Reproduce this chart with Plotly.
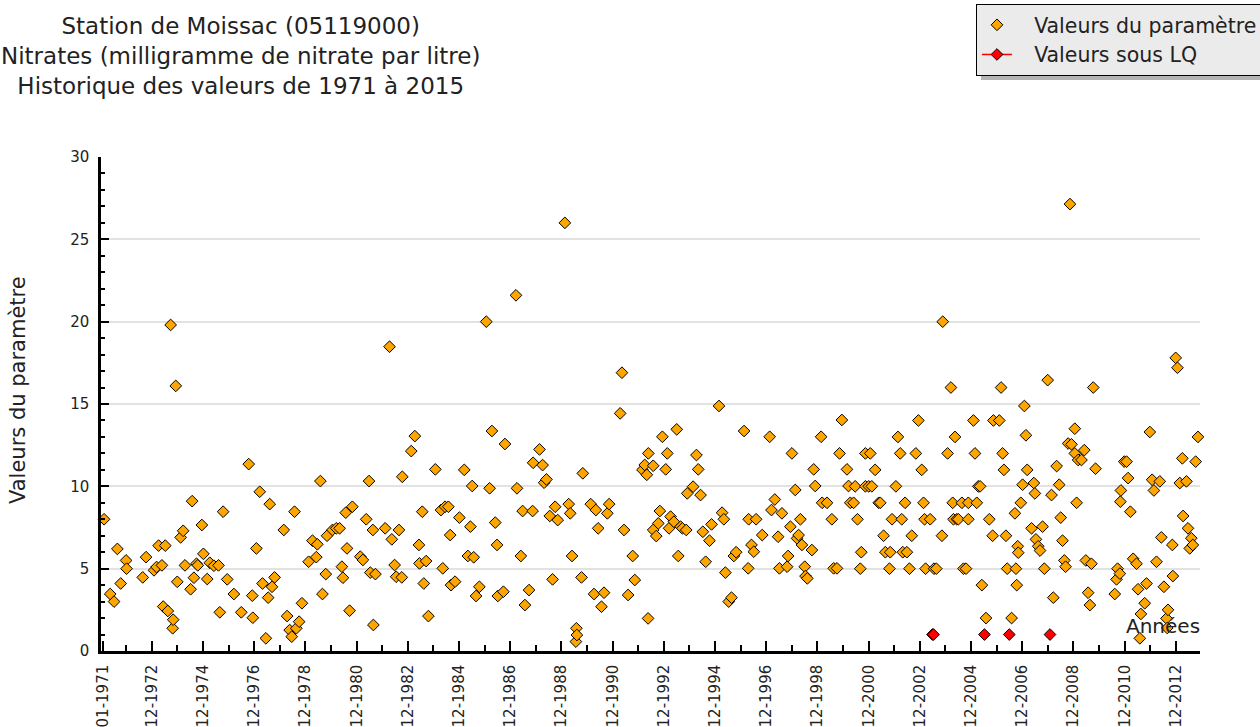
import plotly.graph_objects as go

# ---- data (decimal years, mg/L) ----
param_years = [
    1971.05, 1971.29, 1971.44, 1971.57, 1971.70, 1971.91, 1971.93, 1972.56, 1972.69, 1973.00,
    1973.10, 1973.18, 1973.31, 1973.36, 1973.44, 1973.54, 1973.65, 1973.73, 1973.75, 1973.85,
    1973.91, 1974.04, 1974.14, 1974.21, 1974.43, 1974.49, 1974.56, 1974.66, 1974.71, 1974.87,
    1974.93, 1975.08, 1975.18, 1975.34, 1975.52, 1975.57, 1975.70, 1975.86, 1976.12, 1976.41,
    1976.70, 1976.84, 1976.86, 1977.00, 1977.13, 1977.24, 1977.37, 1977.46, 1977.52, 1977.61,
    1977.71, 1978.07, 1978.20, 1978.30, 1978.38, 1978.49, 1978.56, 1978.67, 1978.78, 1979.04,
    1979.19, 1979.34, 1979.38, 1979.50, 1979.58, 1979.71, 1979.76, 1979.97, 1980.12, 1980.25,
    1980.34, 1980.38, 1980.49, 1980.54, 1980.64, 1980.75, 1981.06, 1981.16, 1981.29, 1981.40,
    1981.45, 1981.55, 1981.57, 1981.65,
    1982.03, 1982.20, 1982.29, 1982.40, 1982.46, 1982.57, 1982.68, 1982.70, 1983.05, 1983.19,
    1983.35, 1983.37, 1983.48, 1983.54, 1983.63, 1983.72, 1983.99, 1984.21, 1984.28, 1984.37,
    1984.50, 1984.57, 1984.60, 1984.76, 1984.93, 1985.12, 1985.26, 1985.36, 1985.43, 1985.49,
    1985.58, 1985.71, 1985.98, 1986.11, 1986.20, 1986.33, 1986.40, 1986.43, 1986.65, 1986.71,
    1987.14, 1987.18, 1987.33, 1987.40, 1987.49, 1987.65, 1987.79, 1987.81, 1988.06, 1988.18,
    1988.24, 1988.33, 1988.46, 1988.57, 1988.67, 1988.77, 1989.05, 1989.20, 1989.26, 1989.33,
    1989.48, 1989.50, 1989.52, 1989.70, 1989.75, 1990.06, 1990.19, 1990.26, 1990.35, 1990.48,
    1990.58, 1990.71, 1990.78, 1991.21, 1991.28, 1991.36, 1991.52, 1991.70, 1991.78, 1992.08,
    1992.17, 1992.25, 1992.31, 1992.30,
    1992.50, 1992.50, 1992.62, 1992.70, 1992.76, 1992.86, 1992.99, 1993.05, 1993.12, 1993.18,
    1993.31, 1993.42, 1993.48, 1993.57, 1993.64, 1993.79, 1993.83, 1994.06, 1994.19, 1994.26,
    1994.35, 1994.44, 1994.55, 1994.70, 1994.78, 1995.07, 1995.19, 1995.26, 1995.32, 1995.45,
    1995.56, 1995.65, 1995.74, 1996.05, 1996.21, 1996.23, 1996.34, 1996.43, 1996.52, 1996.76,
    1997.05, 1997.12, 1997.25, 1997.38, 1997.43, 1997.53, 1997.73, 1997.77, 1997.86, 1997.92,
    1998.05, 1998.12, 1998.18, 1998.25, 1998.31, 1998.42, 1998.45, 1998.52, 1998.70, 1998.77,
    1998.83, 1999.06, 1999.10, 1999.29, 1999.48, 1999.55, 1999.68, 1999.78, 1999.87, 2000.07,
    2000.13, 2000.20, 2000.33, 2000.39, 2000.48, 2000.59, 2000.63, 2000.79, 2000.79, 2000.92,
    2000.98, 2001.04, 2001.17, 2001.31, 2001.37, 2001.50, 2001.57, 2001.73, 2001.76, 2001.83,
    2001.98, 2002.06, 2002.15, 2002.21, 2002.25, 2002.34, 2002.41, 2002.51, 2002.60, 2002.76,
    2002.86, 2002.99, 2003.06, 2003.10, 2003.32, 2003.14, 2003.47, 2003.56,
    2003.78, 2004.00, 2003.81, 2004.13, 2004.20, 2004.23, 2004.29, 2004.36, 2004.42, 2004.56,
    2004.62, 2004.72, 2004.81, 2004.81, 2005.01, 2005.07, 2005.14, 2005.20, 2005.27, 2005.34,
    2005.50, 2005.63, 2005.76, 2005.79, 2006.02, 2006.09, 2006.15, 2006.20, 2006.28, 2006.33,
    2006.50, 2006.63, 2006.67, 2006.70, 2006.74, 2006.76, 2006.86, 2006.93, 2007.00, 2007.06,
    2007.11, 2007.28, 2007.37, 2007.41, 2007.45, 2007.54, 2007.61, 2007.71, 2007.78, 2007.91,
    2008.06, 2008.13, 2008.26, 2008.36, 2008.42, 2008.49, 2008.56, 2008.61, 2008.71, 2008.78,
    2008.84, 2008.97, 2008.97, 2009.04, 2009.10, 2009.23, 2009.34, 2009.40, 2009.49, 2009.56,
    2009.62, 2009.69, 2009.78, 2010.53, 2010.60, 2010.64, 2010.73, 2010.75, 2010.77, 2010.90,
    2010.99, 2011.05, 2011.14, 2011.25, 2011.38, 2011.44, 2011.51, 2011.55, 2011.70, 2011.77,
    2011.90, 2011.99, 2012.06, 2012.16, 2012.29, 2012.35, 2012.45, 2012.55, 2012.61, 2012.58,
    2012.78, 2012.80, 2012.91, 2012.98, 2013.07, 2013.17, 2013.20, 2013.33, 2013.39, 2013.46,
    2013.52, 2013.58, 2013.69, 2013.78,
]
param_values = [
    8.0, 3.46, 3.0, 6.2, 4.1, 5.5, 5.0, 4.47, 5.7, 4.9,
    5.1, 6.4, 5.2, 2.7, 6.4, 2.43, 19.8, 1.38, 1.9, 16.1,
    4.2, 6.9, 7.3, 5.2, 3.75, 9.1, 4.45, 5.3, 5.2, 7.65,
    5.9, 4.37, 5.36, 5.18, 5.2, 2.35, 8.46, 4.35, 3.46, 2.35,
    11.35, 3.36, 2.02, 6.23, 9.67, 4.1, 0.77, 3.24, 8.92, 3.9,
    4.47, 7.35, 2.12, 1.27, 0.87, 8.46, 1.38, 1.78, 2.9, 5.42,
    6.7, 5.7, 6.48, 10.32, 3.46, 4.67, 7.0, 7.35, 7.45, 7.45,
    5.12, 4.45, 8.4, 6.23, 2.45, 8.76, 5.73, 5.53, 8.0, 10.32,
    4.76, 7.35, 1.58, 4.67,
    7.45, 18.48, 6.78, 5.22, 4.51, 7.35, 4.47, 10.58, 12.14, 13.05,
    6.44, 5.32, 8.46, 4.1, 5.46, 2.12, 11.03, 8.56, 5.02, 8.76,
    8.76, 7.04, 4.0, 4.21, 8.1, 11.0, 5.77, 7.55, 10.02, 5.69,
    3.34, 3.9, 20.0, 9.88, 13.36, 7.8, 6.44, 3.34, 3.6, 12.57,
    21.6, 9.88, 5.77, 8.5, 2.79, 3.7, 8.5, 11.43, 12.24, 11.29,
    10.22, 10.42, 8.2, 4.35, 8.76, 7.95, 26.0, 8.92, 8.36, 5.77,
    0.57, 1.38, 0.97, 4.47, 10.79, 8.92, 3.46, 8.56, 7.45, 2.69,
    3.54, 8.36, 8.92, 14.43, 16.9, 7.35, 3.4, 5.77, 4.31, 11.0,
    11.3, 10.7, 12.0, 1.98,
    11.25, 7.35, 6.98, 7.75, 8.5, 13.01, 11.03, 12.0, 7.45, 8.16,
    7.85, 13.46, 5.77, 7.55, 7.45, 7.35, 9.57, 9.98, 11.9, 11.03,
    9.47, 7.24, 5.42, 6.7, 7.69, 14.88, 8.4, 8.0, 4.76, 3.0,
    3.24, 5.77, 6.0, 13.36, 5.02, 8.0, 6.44, 6.03, 8.0, 7.04,
    13.01, 8.56, 9.2, 6.94, 5.02, 8.36, 5.12, 5.77, 7.55, 12.0,
    9.78, 6.84, 7.04, 8.0, 6.44, 5.12, 4.55, 4.41, 6.13, 11.03,
    10.02, 13.01, 9.0, 9.0, 8.0, 5.02, 5.02, 12.0, 14.03, 11.03,
    10.02, 9.0, 9.0, 10.0, 8.0, 5.0, 6.0, 12.0, 10.0, 10.0,
    12.0, 10.0, 11.0, 9.0, 9.0, 7.0, 6.0, 5.0, 6.0, 8.0,
    10.0, 13.0, 12.0, 8.0, 6.0, 9.0, 6.0, 5.0, 7.0, 12.0,
    14.0, 11.0, 9.0, 8.0, 8.0, 5.0, 5.0, 5.0,
    7.0, 12.0, 20.0, 16.0, 9.0, 8.0, 13.0, 8.0, 8.0, 9.0,
    5.0, 5.0, 9.0, 8.0, 14.0, 12.0, 9.0, 10.0, 10.0, 4.0,
    2.0, 8.0, 7.0, 14.0, 14.0, 16.0, 12.0, 11.0, 7.0, 5.0,
    2.0, 8.36, 5.0, 4.0, 6.36, 5.97, 9.0, 10.1, 14.88, 13.1,
    11.0, 7.45, 10.2, 9.57, 6.78, 6.36, 6.1, 7.55, 5.0, 16.45,
    9.47, 3.24, 11.23, 10.1, 8.1, 6.7, 5.5, 5.12, 12.6, 27.14,
    12.55, 13.5, 12.0, 9.0, 11.6, 11.6, 12.2, 5.5, 3.54, 2.79,
    5.3, 16.0, 11.07, 3.46, 4.35, 5.0, 4.7, 9.07, 9.75, 11.5,
    11.5, 10.5, 8.46, 5.6, 5.3, 3.75, 0.77, 2.25, 2.9, 4.1,
    13.3, 10.4, 9.75, 5.42, 10.3, 6.9, 3.9, 1.98, 2.5, 1.4,
    6.44, 4.55, 17.8, 17.2, 10.2, 11.7, 8.2, 10.3, 7.45, 6.23,
    6.85, 6.44, 11.5, 13.0,
]
lq_years = [2003.41, 2003.45, 2005.44, 2006.41, 2008.00]
lq_values = [1.0, 1.0, 1.0, 1.0, 1.0]

tick_years = [1971.0] + [1972.917 + 2 * k for k in range(21)]
tick_labels = ["01-1971"] + ["12-%d" % (1972 + 2 * k) for k in range(21)]
minor_years = [1971.917 + 2 * k for k in range(22)]

FONT = "DejaVu Sans"
TXT = "#222222"
NB = "\u00a0\u00a0\u2009"

W, H = 1260, 727
L, R, T, B = 101, 60, 157, 76
PW, PH = W - L - R, H - T - B


def px_x(x):
    return (x - L) / PW


def px_y(y):
    return (H - B - y) / PH


fig = go.Figure()
fig.add_trace(go.Scatter(
    x=param_years, y=param_values, mode="markers", name=NB + "Valeurs du paramètre",
    marker=dict(symbol="diamond", size=9, color="#FFA500", line=dict(color="black", width=1)),
    cliponaxis=False,
))
fig.add_trace(go.Scatter(
    x=lq_years, y=lq_values, mode="markers", name=NB + "Valeurs sous LQ", showlegend=False,
    marker=dict(symbol="diamond", size=9, color="#FF0000", line=dict(color="black", width=1)),
    cliponaxis=False, legendgroup="lq",
))
fig.add_trace(go.Scatter(
    x=[None], y=[None], mode="lines+markers", name=NB + "Valeurs sous LQ", legendgroup="lq",
    line=dict(color="#FF0000", width=1.5),
    marker=dict(symbol="diamond", size=9, color="#FF0000", line=dict(color="black", width=1)),
))

fig.update_layout(
    width=W, height=H,
    margin=dict(l=L, r=R, t=T, b=B, autoexpand=False),
    paper_bgcolor="white", plot_bgcolor="white",
    font=dict(family=FONT, color=TXT, size=15),
    xaxis=dict(
        range=[1970.93, 2013.86], showgrid=False, zeroline=False,
        showline=True, linecolor="black", linewidth=2.5,
        tickmode="array", tickvals=tick_years, ticktext=tick_labels,
        ticks="inside", ticklen=10, tickwidth=1.5, tickcolor="black",
        tickangle=-90, tickfont=dict(family=FONT, size=15, color=TXT),
        ticklabelstandoff=5,
        minor=dict(tickmode="array", tickvals=minor_years, ticks="inside", ticklen=6,
                   tickwidth=1.5, tickcolor="black", showgrid=False),
        fixedrange=True,
    ),
    yaxis=dict(
        range=[0, 30], showgrid=True, gridcolor="#e2e2e2", gridwidth=1.5, zeroline=False,
        showline=True, linecolor="black", linewidth=2.5,
        tickmode="linear", tick0=0, dtick=5,
        ticks="inside", ticklen=8, tickwidth=1.5, tickcolor="black",
        tickfont=dict(family=FONT, size=15, color=TXT),
        ticklabelstandoff=6,
        minor=dict(dtick=1, ticks="inside", ticklen=4, tickwidth=1.5, tickcolor="black", showgrid=False),
        fixedrange=True,
    ),
    legend=dict(
        x=px_x(976), xanchor="left", y=px_y(4), yanchor="top",
        bgcolor="#ebebeb", bordercolor="black", borderwidth=1,
        font=dict(family=FONT, size=20.5, color=TXT), tracegroupgap=0,
    ),
    shapes=[
        dict(type="rect", xref="paper", yref="paper", layer="below",
             x0=px_x(981), x1=px_x(1275), y0=px_y(80), y1=px_y(60),
             fillcolor="#b4b4b4", line=dict(width=0)),
    ],
    annotations=[
        dict(text="Station de Moissac (05119000)<br>Nitrates (milligramme de nitrate par litre)<br>Historique des valeurs de 1971 à 2015",
             xref="paper", yref="paper", x=px_x(240), y=px_y(56), xanchor="center", yanchor="middle",
             align="center", showarrow=False, font=dict(family=FONT, size=23, color=TXT)),
        dict(text="Valeurs du paramètre", textangle=-90, xref="paper", yref="paper",
             x=px_x(18), y=px_y(390), xanchor="center", yanchor="middle",
             showarrow=False, font=dict(family=FONT, size=21, color=TXT)),
        dict(text="Années", xref="paper", yref="paper",
             x=px_x(1202), y=px_y(626), xanchor="right", yanchor="middle",
             showarrow=False, font=dict(family=FONT, size=20, color=TXT)),
    ],
    showlegend=True,
)

fig.write_html(
    "out.html",
    config={"displayModeBar": False},
    post_script="document.body.style.margin='0';document.body.style.overflow='hidden';",
)
